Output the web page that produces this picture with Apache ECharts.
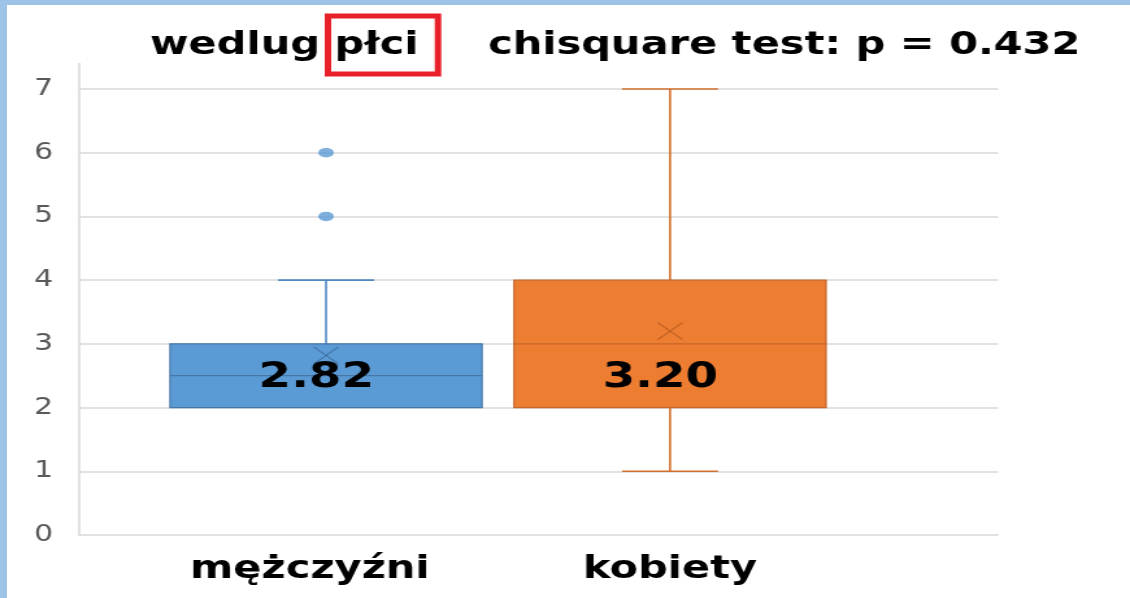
<!DOCTYPE html>
<html>
<head>
<meta charset="utf-8">
<script src="https://cdn.jsdelivr.net/npm/echarts@6/dist/echarts.min.js"></script>
<style>
  html, body { margin: 0; padding: 0; background: #ffffff; }
  #wrap { position: relative; width: 1130px; height: 598px; overflow: hidden; background: #ffffff; }
  #chart { position: absolute; left: 0; top: 0; width: 870px; height: 598px; transform: scaleX(1.29885); transform-origin: 0 0; }
  .frame { position: absolute; background: #9dc3e6; z-index: 5; }
</style>
</head>
<body>
<div id="wrap">
  <div id="chart"></div>
  <div class="frame" style="left:0;top:0;width:7px;height:598px;"></div>
  <div class="frame" style="left:0;top:0;width:1130px;height:5px;"></div>
</div>
<script>
// ---- data ----
const categories = ['mężczyźni', 'kobiety'];
const minValues = [2, 1];
const q1Values = [2, 2];
const medianValues = [2.5, 3];
const q3Values = [3, 4];
const maxValues = [4, 7];
const meanValues = [2.82, 3.20];
const outlierCategory = [0, 0];
const outlierValues = [5, 6];
const yTickLabels = ['0', '1', '2', '3', '4', '5', '6', '7'];
const titleLeft = 'wedlug płci';
const titleRight = 'chisquare test: p = 0.432';

// ---- styles ----
const fillColors = ['#5b9bd5', '#ed7d31'];
const borderColors = ['#4777a8', '#c5672a'];
const whiskerColors = ['#4f88c2', '#d2702e'];
const meanColors = ['rgba(60,100,150,0.75)', 'rgba(170,85,30,0.75)'];

const boxData = categories.map((c, i) => [i, minValues[i], q1Values[i], medianValues[i], q3Values[i], maxValues[i], meanValues[i]]);
const outlierData = outlierValues.map((v, i) => [outlierCategory[i], v]);

const chart = echarts.init(document.getElementById('chart'), null, { renderer: 'canvas' });

function renderBox(params, api) {
  const i = params.dataIndex;
  const x = api.value(0);
  const vMin = api.value(1), vQ1 = api.value(2), vMed = api.value(3), vQ3 = api.value(4), vMax = api.value(5), vMean = api.value(6);
  const band = api.size([1, 0])[0];
  const bw = band * 0.907;
  const cw = band * 0.279;
  const pQ1 = api.coord([x, vQ1]);
  const pQ3 = api.coord([x, vQ3]);
  const pMed = api.coord([x, vMed]);
  const pMin = api.coord([x, vMin]);
  const pMax = api.coord([x, vMax]);
  const pMean = api.coord([x, vMean]);
  const pLab = api.coord([x, vQ1 + 0.5]);
  const cx = pQ1[0];
  const children = [];
  const wStyle = { stroke: whiskerColors[i], lineWidth: 1.6 };
  if (vMax > vQ3) {
    children.push({ type: 'line', shape: { x1: cx, y1: pQ3[1], x2: cx, y2: pMax[1] }, style: wStyle });
    children.push({ type: 'line', shape: { x1: cx - cw / 2, y1: pMax[1], x2: cx + cw / 2, y2: pMax[1] }, style: wStyle });
  }
  if (vMin < vQ1) {
    children.push({ type: 'line', shape: { x1: cx, y1: pQ1[1], x2: cx, y2: pMin[1] }, style: wStyle });
    children.push({ type: 'line', shape: { x1: cx - cw / 2, y1: pMin[1], x2: cx + cw / 2, y2: pMin[1] }, style: wStyle });
  }
  children.push({
    type: 'rect',
    shape: { x: cx - bw / 2, y: pQ3[1], width: bw, height: pQ1[1] - pQ3[1] },
    style: { fill: fillColors[i], stroke: borderColors[i], lineWidth: 1.2 }
  });
  children.push({
    type: 'line',
    shape: { x1: cx - bw / 2, y1: pMed[1], x2: cx + bw / 2, y2: pMed[1] },
    style: { stroke: borderColors[i], lineWidth: 1.2 }
  });
  const hx = 9.5, hy = 8.5;
  children.push({ type: 'line', shape: { x1: cx - hx, y1: pMean[1] - hy, x2: cx + hx, y2: pMean[1] + hy }, style: { stroke: meanColors[i], lineWidth: 1.1 } });
  children.push({ type: 'line', shape: { x1: cx - hx, y1: pMean[1] + hy, x2: cx + hx, y2: pMean[1] - hy }, style: { stroke: meanColors[i], lineWidth: 1.1 } });
  children.push({
    type: 'text',
    style: {
      text: vMean.toFixed(2),
      x: cx - 7.5,
      y: pLab[1] + 2,
      align: 'center',
      verticalAlign: 'middle',
      font: 'bold 36px "DejaVu Sans"',
      fill: '#000000'
    }
  });
  return { type: 'group', children: children };
}

const option = {
  animation: false,
  backgroundColor: '#ffffff',
  graphic: [
    {
      type: 'text', left: 115.5, top: 30,
      style: { text: titleLeft, font: 'bold 32px "DejaVu Sans"', fill: '#000000' }
    },
    {
      type: 'text', left: 375.7, top: 30,
      style: { text: titleRight, font: 'bold 32px "DejaVu Sans"', fill: '#000000' }
    },
    {
      type: 'rect',
      shape: { x: 252.5, y: 16, width: 84.7, height: 58 },
      style: { fill: 'none', stroke: '#e8202a', lineWidth: 5 }
    }
  ],
  grid: [
    { left: 60.8, right: 101.6, top: 63.5, bottom: 63, containLabel: false },
    { left: 118.6, right: 221.7, top: 63.5, bottom: 63, containLabel: false }
  ],
  xAxis: [
    {
      type: 'value', gridIndex: 0, min: 0, max: 1,
      axisLine: { show: true, lineStyle: { color: '#d9d9d9', width: 1.5 } },
      axisTick: { show: false }, axisLabel: { show: false }, splitLine: { show: false }
    },
    {
      type: 'category', gridIndex: 1, data: categories, boundaryGap: true,
      axisLine: { show: false }, axisTick: { show: false }, splitLine: { show: false },
      axisLabel: {
        interval: 0,
        hideOverlap: false,
        margin: 19,
        color: '#000000',
        fontSize: 32, fontWeight: 'bold', fontFamily: 'DejaVu Sans',
        formatter: function (v, idx) { return idx === 0 ? '{a|' + v + '}' : '{b|' + v + '}'; },
        rich: {
          a: { fontSize: 32, fontWeight: 'bold', fontFamily: 'DejaVu Sans', color: '#000000', padding: [0, 25, 0, 0] },
          b: { fontSize: 32, fontWeight: 'bold', fontFamily: 'DejaVu Sans', color: '#000000' }
        }
      }
    }
  ],
  yAxis: [
    {
      type: 'value', gridIndex: 0, min: 0, max: 7.4, interval: 1,
      axisLine: { show: true, lineStyle: { color: '#d9d9d9', width: 1.5 } },
      axisTick: { show: false },
      axisLabel: {
        showMaxLabel: false,
        margin: 20,
        color: '#595959', fontSize: 23, fontFamily: 'DejaVu Sans',
        formatter: function (v) { return Number.isInteger(v) ? yTickLabels[v] : ''; }
      },
      splitLine: { show: true, showMaxLine: false, showMinLine: false, lineStyle: { color: '#d9d9d9', width: 1.5 } }
    },
    {
      type: 'value', gridIndex: 1, min: 0, max: 7.4, interval: 1,
      axisLine: { show: false }, axisTick: { show: false }, axisLabel: { show: false }, splitLine: { show: false }
    }
  ],
  series: [
    {
      type: 'custom', xAxisIndex: 1, yAxisIndex: 1,
      data: boxData,
      encode: { x: 0, y: [1, 2, 3, 4, 5, 6] },
      renderItem: renderBox,
      z: 3
    },
    {
      type: 'scatter', xAxisIndex: 1, yAxisIndex: 1,
      data: outlierData,
      symbol: 'circle', symbolSize: [12, 9.5],
      itemStyle: { color: '#5b9bd5' },
      z: 4
    }
  ]
};
chart.setOption(option);
</script>
</body>
</html>
